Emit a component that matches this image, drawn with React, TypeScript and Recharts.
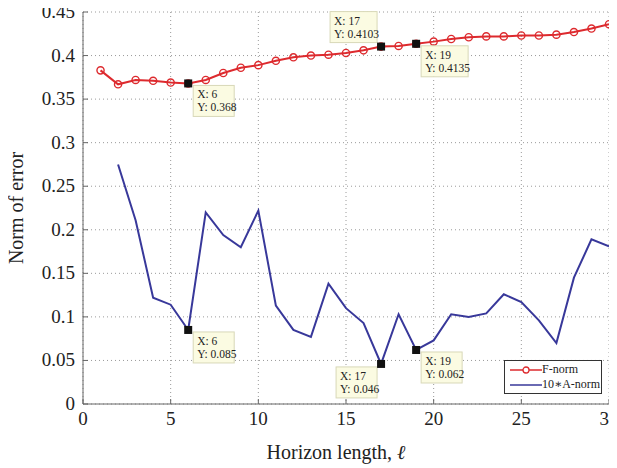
import React from "react";
import { LineChart, Line, XAxis, YAxis, CartesianGrid, ReferenceDot, Label } from "recharts";

const horizon = [1,2,3,4,5,6,7,8,9,10,11,12,13,14,15,16,17,18,19,20,21,22,23,24,25,26,27,28,29,30];
const fNorm = [0.383,0.367,0.372,0.371,0.369,0.368,0.372,0.380,0.386,0.389,0.394,0.398,0.400,0.401,0.403,0.406,0.4103,0.411,0.4135,0.416,0.419,0.421,0.422,0.422,0.423,0.423,0.424,0.427,0.431,0.436];
const aNorm10: (number | null)[] = [null,0.275,0.211,0.122,0.114,0.085,0.220,0.194,0.180,0.222,0.113,0.085,0.077,0.138,0.110,0.093,0.046,0.103,0.062,0.073,0.103,0.100,0.104,0.126,0.117,0.096,0.070,0.145,0.189,0.181];
const xTicks = [0,5,10,15,20,25,30];
const yTicks = [0,0.05,0.1,0.15,0.2,0.25,0.3,0.35,0.4,0.45];
const tips = [
  { x: 6, y: 0.368, dir: "br" },
  { x: 17, y: 0.4103, dir: "tl" },
  { x: 19, y: 0.4135, dir: "br" },
  { x: 6, y: 0.085, dir: "br" },
  { x: 17, y: 0.046, dir: "bl" },
  { x: 19, y: 0.062, dir: "br" },
];

const data = horizon.map((h, i) => ({ h, f: fNorm[i], a: aNorm10[i] }));

const RED = "#dd2a2e";
const BLUE = "#38389a";
const FONT = "Liberation Serif, DejaVu Serif, serif";

const makeTip = (tx: number, ty: number, dir: string) => (props: any) => {
  const { cx, cy } = props;
  if (cx == null || cy == null) return null;
  const l1 = `X: ${tx}`;
  const l2 = `Y: ${ty}`;
  const w = l2.length > 8 ? 47 : 41;
  const h = 31;
  let bx = cx + 5, by = cy + 2;
  if (dir === "tl") { bx = cx - w - 4; by = cy - h - 4; }
  if (dir === "bl") { bx = cx - w - 4; by = cy + 3; }
  return (
    <g>
      <rect x={bx} y={by} width={w} height={h} fill="#fbfbe2" stroke="#d8d8b8" strokeWidth={1} />
      <text x={bx + 4} y={by + 13} fontSize={11.5} fontFamily={FONT} fill="#222">{l1}</text>
      <text x={bx + 4} y={by + 26} fontSize={11.5} fontFamily={FONT} fill="#222">{l2}</text>
      <rect x={cx - 4} y={cy - 4} width={8} height={8} fill="#111" />
    </g>
  );
};

const fmt = (v: number) => String(Number(v.toFixed(2)));

const RedDot = (props: any) => {
  const { cx, cy } = props;
  if (cx == null || cy == null) return null;
  return <circle cx={cx} cy={cy} r={3.6} fill="none" stroke={RED} strokeWidth={1.4} />;
};

const XTick = (props: any) => {
  const { x, y, payload } = props;
  return (
    <text x={x} y={y + 24} textAnchor="middle" fontSize={19} fontFamily={FONT} fill="#222">
      {fmt(payload.value)}
    </text>
  );
};

const YTick = (props: any) => {
  const { x, y, payload } = props;
  return (
    <text x={75} y={y + 6} textAnchor="end" fontSize={19} fontFamily={FONT} fill="#222">
      {fmt(payload.value)}
    </text>
  );
};

const YLabel = () => (
  <text x={23} y={208} transform="rotate(-90 23 208)" textAnchor="middle" fontSize={20} fontFamily={FONT} fill="#222">
    Norm of error
  </text>
);

const XLabel = () => (
  <text x={336} y={459} textAnchor="middle" fontSize={20} fontFamily={FONT} fill="#222">
    Horizon length, <tspan fontStyle="italic">ℓ</tspan>
  </text>
);

export default function App() {
  return (
    <div style={{ position: "relative", width: 617, height: 468, margin: "-8px 0 0 -8px", fontFamily: FONT }}>
      <LineChart width={617} height={468} data={data} margin={{ top: 12, right: 8, bottom: 0, left: 0 }}>
        <CartesianGrid stroke="#9a9a9a" strokeDasharray="1 3" horizontalValues={yTicks} verticalValues={xTicks} />
        <XAxis
          dataKey="h"
          type="number"
          domain={[0, 30]}
          ticks={xTicks}
          interval={0}
          height={64}
          stroke="#666"
          tickSize={-5}
          tick={<XTick />}
        >
          <Label content={<XLabel />} />
        </XAxis>
        <XAxis xAxisId="top" orientation="top" type="number" domain={[0, 30]} ticks={xTicks} tick={false} tickSize={-5} height={0} stroke="#666" />
        <YAxis
          type="number"
          domain={[0, 0.45]}
          ticks={yTicks}
          interval={0}
          width={83}
          stroke="#666"
          tickSize={-5}
          tick={<YTick />}
        >
          <Label content={<YLabel />} />
        </YAxis>
        <YAxis yAxisId="right" orientation="right" domain={[0, 0.45]} ticks={yTicks} tick={false} tickSize={-5} width={0} stroke="#666" />
        <Line dataKey="f" stroke={RED} strokeWidth={2} dot={<RedDot />} isAnimationActive={false} />
        <Line dataKey="a" stroke={BLUE} strokeWidth={2} dot={false} isAnimationActive={false} />
        {tips.map((t, i) => (
          <ReferenceDot key={i} x={t.x} y={t.y} r={4} shape={makeTip(t.x, t.y, t.dir)} />
        ))}
      </LineChart>
      <div style={{ position: "absolute", left: 504, top: 360, width: 96, height: 32, background: "#fff", border: "1px solid #333", fontSize: 12, color: "#222", fontFamily: FONT }}>
        <div style={{ display: "flex", alignItems: "center", height: 15, marginTop: 1 }}>
          <svg width={32} height={10} style={{ marginLeft: 5 }}>
            <line x1={0} y1={5} x2={32} y2={5} stroke={RED} strokeWidth={1.5} />
            <circle cx={16} cy={5} r={3} fill="#fff" stroke={RED} strokeWidth={1.3} />
          </svg>
          <span>F-norm</span>
        </div>
        <div style={{ display: "flex", alignItems: "center", height: 15 }}>
          <svg width={32} height={10} style={{ marginLeft: 5 }}>
            <line x1={0} y1={5} x2={32} y2={5} stroke={BLUE} strokeWidth={1.5} />
          </svg>
          <span>10∗A-norm</span>
        </div>
      </div>
    </div>
  );
}
